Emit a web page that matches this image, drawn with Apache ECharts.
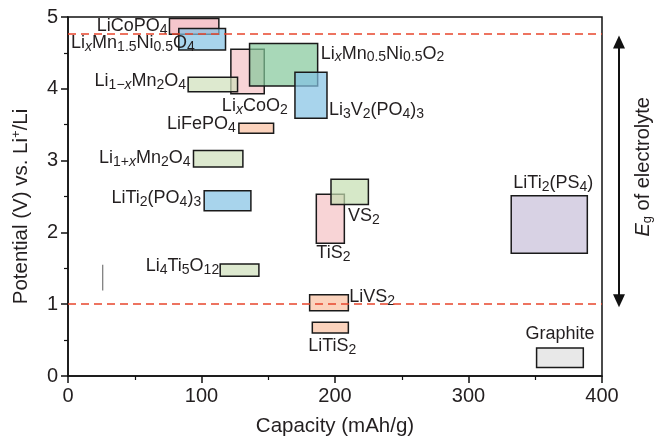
<!DOCTYPE html>
<html><head><meta charset="utf-8">
<script src="https://cdn.jsdelivr.net/npm/echarts@6/dist/echarts.min.js"></script>
<style>html,body{margin:0;padding:0;background:#fff}#c{width:656px;height:438px}</style>
</head><body><div id="c"></div>
<script>
// ---- data ----
const materials = ['LiCoPO4','LixMn1.5Ni0.5O4','LixCoO2','LixMn0.5Ni0.5O2','Li3V2(PO4)3','Li1-xMn2O4','LiFePO4','Li1+xMn2O4','LiTi2(PO4)3','Li4Ti5O12','TiS2','VS2','LiVS2','LiTiS2','LiTi2(PS4)','Graphite'];
const capacityLow  = [76, 83, 122, 136, 170, 90, 128, 94, 102, 114, 186, 197, 181, 183, 332, 351];
const capacityHigh = [113, 118, 147, 187, 194, 127, 154, 131, 137, 143, 207, 225, 210, 210, 389, 386];
const potentialLow  = [4.76, 4.54, 3.93, 4.04, 3.59, 3.96, 3.38, 2.91, 2.30, 1.39, 1.85, 2.39, 0.91, 0.60, 1.71, 0.12];
const potentialHigh = [4.98, 4.84, 4.55, 4.63, 4.23, 4.16, 3.52, 3.14, 2.58, 1.56, 2.53, 2.74, 1.13, 0.75, 2.51, 0.39];
const xTicks = [0, 100, 200, 300, 400];
const yTicks = [0, 1, 2, 3, 4, 5];
const electrolyteWindow = [1.0, 4.77];
const refMarkCapacity = [26, 26];
const refMarkPotential = [1.19, 1.55];
const labelText = [
  '{n|LiCoPO}{s|4}',
  '{n|Li}{si|x}{n|Mn}{s|1.5}{n|Ni}{s|0.5}{n|O}{s|4}',
  '{n|Li}{si|x}{n|CoO}{s|2}',
  '{n|Li}{si|x}{n|Mn}{s|0.5}{n|Ni}{s|0.5}{n|O}{s|2}',
  '{n|Li}{s|3}{n|V}{s|2}{n|(PO}{s|4}{n|)}{s|3}',
  '{n|Li}{s|1\u2212}{si|x}{n|Mn}{s|2}{n|O}{s|4}',
  '{n|LiFePO}{s|4}',
  '{n|Li}{s|1+}{si|x}{n|Mn}{s|2}{n|O}{s|4}',
  '{n|LiTi}{s|2}{n|(PO}{s|4}{n|)}{s|3}',
  '{n|Li}{s|4}{n|Ti}{s|5}{n|O}{s|12}',
  '{n|TiS}{s|2}',
  '{n|VS}{s|2}',
  '{n|LiVS}{s|2}',
  '{n|LiTiS}{s|2}',
  '{n|LiTi}{s|2}{n|(PS}{s|4}{n|)}',
  '{n|Graphite}'
];

// ---- styles / layout ----
const fills = [
  'rgba(241,174,182,0.7)','rgba(131,194,228,0.7)','rgba(245,194,197,0.7)','rgba(131,199,154,0.7)',
  'rgba(131,194,228,0.7)','rgba(206,224,187,0.7)','rgba(249,192,161,0.7)','rgba(206,224,187,0.7)',
  'rgba(131,194,228,0.7)','rgba(206,224,187,0.7)','rgba(245,194,197,0.7)','rgba(196,222,176,0.7)',
  'rgba(249,192,161,0.7)','rgba(249,192,161,0.7)','rgba(199,191,217,0.7)','rgba(222,222,222,0.7)'
];
// [hAnchor, align, dx, vAnchor, dy]
const labelLayout = [
  ['x0','right',-2,'mid',0],
  ['x0','right',16,'mid',4],
  ['x0','left',-9,'bottom',12],
  ['x1','left',3,'top',10],
  ['x1','left',2,'bottom',-8],
  ['x0','right',-2,'mid',-3],
  ['x0','right',-3,'mid',-4],
  ['x0','right',-3,'mid',-1],
  ['x0','right',-3,'mid',-3],
  ['x0','right',-1,'mid',-4],
  ['x0','left',0,'bottom',10],
  ['x0','left',17,'bottom',12],
  ['x1','left',1,'top',2],
  ['cx','center',2,'bottom',13],
  ['cx','center',4,'top',-13],
  ['cx','center',0,'top',-14]
];
const FONT = '"Liberation Sans", Arial, Helvetica, sans-serif';
const TXT = '#231f20';
const rich = {
  n: {fontSize: 18, fontFamily: FONT, color: TXT},
  s: {fontSize: 14, fontFamily: FONT, color: TXT, padding: [8, 0, 0, 0]},
  si: {fontSize: 14, fontFamily: FONT, color: TXT, fontStyle: 'italic', padding: [8, 0, 0, 0]}
};

const chart = echarts.init(document.getElementById('c'), null, {renderer: 'canvas'});
const rectData = materials.map((m, i) => [capacityLow[i], capacityHigh[i], potentialLow[i], potentialHigh[i]]);

const option = {
  animation: false,
  backgroundColor: '#fff',
  grid: {left: 68, right: 54, top: 17, bottom: 62, containLabel: false, outerBoundsMode: 'none',
         show: true, borderColor: '#111', borderWidth: 1.5, backgroundColor: 'transparent'},
  xAxis: {
    type: 'value', min: xTicks[0], max: xTicks[xTicks.length - 1], interval: 100,
    name: 'Capacity (mAh/g)', nameLocation: 'middle', nameGap: 40,
    nameTextStyle: {fontSize: 20.5, fontFamily: FONT, color: TXT},
    axisLine: {lineStyle: {color: '#111', width: 1.5}},
    axisTick: {show: true, inside: false, length: 7, lineStyle: {color: '#111', width: 1.5}},
    minorTick: {show: true, splitNumber: 2, length: 4, lineStyle: {color: '#111', width: 1.2}},
    axisLabel: {fontSize: 20, fontFamily: FONT, color: TXT, margin: 10},
    splitLine: {show: false}
  },
  yAxis: {
    type: 'value', min: yTicks[0], max: yTicks[yTicks.length - 1], interval: 1,
    name: 'Potential (V) vs. Li{sup|+}/Li', nameLocation: 'middle', nameGap: 35,
    nameTextStyle: {fontSize: 20.5, fontFamily: FONT, color: TXT, padding: [0, 20, 0, 0],
      rich: {sup: {fontSize: 13, fontFamily: FONT, color: TXT, padding: [0, 0, 10, 0]}}},
    axisLine: {lineStyle: {color: '#111', width: 1.5}},
    axisTick: {show: true, inside: false, length: 7, lineStyle: {color: '#111', width: 1.5}},
    minorTick: {show: true, splitNumber: 2, length: 4, lineStyle: {color: '#111', width: 1.2}},
    axisLabel: {fontSize: 20, fontFamily: FONT, color: TXT, margin: 10},
    splitLine: {show: false}
  },
  series: [
    {
      type: 'line', data: [], silent: true,
      markLine: {
        silent: true, symbol: ['none', 'none'], label: {show: false},
        lineStyle: {color: '#e8452c', type: [8, 5], width: 1.5},
        data: electrolyteWindow.map(v => ({yAxis: v}))
      }
    },
    {
      type: 'custom', clip: false, silent: true,
      data: rectData,
      encode: {x: [0, 1], y: [2, 3]},
      renderItem: function (params, api) {
        const i = params.dataIndex;
        const pA = api.coord([api.value(0), api.value(3)]);
        const pB = api.coord([api.value(1), api.value(2)]);
        const x0 = pA[0], y0 = pA[1], x1 = pB[0], y1 = pB[1];
        const L = labelLayout[i];
        let tx = L[0] === 'x0' ? x0 : L[0] === 'x1' ? x1 : (x0 + x1) / 2;
        tx += L[2];
        let ty = L[3] === 'top' ? y0 : L[3] === 'bottom' ? y1 : (y0 + y1) / 2;
        ty += L[4];
        return {
          type: 'group',
          children: [
            {type: 'rect', shape: {x: x0, y: y0, width: x1 - x0, height: y1 - y0},
             style: {fill: fills[i], stroke: '#1a1a1a', lineWidth: 1.5}},
            {type: 'text', x: tx, y: ty, z2: 100,
             style: {text: labelText[i], rich: rich, align: L[1], verticalAlign: 'middle', fill: TXT, font: '18px ' + FONT}}
          ]
        };
      }
    },
    {
      type: 'line', silent: true, symbol: 'none',
      data: refMarkCapacity.map((c, i) => [c, refMarkPotential[i]]),
      lineStyle: {color: '#777', width: 1.2}
    }
  ]
};
chart.setOption(option);

// double arrow + label for electrolyte window
const yTop = chart.convertToPixel({yAxisIndex: 0}, electrolyteWindow[1]);
const yBot = chart.convertToPixel({yAxisIndex: 0}, electrolyteWindow[0]);
const ax = 619, ah = 13, aw = 6;
const tipTop = yTop + 2, tipBot = yBot + 3;
chart.setOption({
  graphic: [
    {type: 'line', shape: {x1: ax, y1: tipTop + 6, x2: ax, y2: tipBot - 6}, style: {stroke: '#111', lineWidth: 2}},
    {type: 'polygon', shape: {points: [[ax, tipTop], [ax - aw, tipTop + ah], [ax + aw, tipTop + ah]]}, style: {fill: '#111'}},
    {type: 'polygon', shape: {points: [[ax, tipBot], [ax - aw, tipBot - ah], [ax + aw, tipBot - ah]]}, style: {fill: '#111'}},
    {type: 'text', x: 643, y: (yTop + yBot) / 2 - 2, rotation: Math.PI / 2,
     style: {text: '{e|E}{g|g}{n| of electrolyte}', align: 'center', verticalAlign: 'middle', fill: TXT,
       rich: {
         e: {fontSize: 20, fontFamily: FONT, fontStyle: 'italic', color: TXT},
         g: {fontSize: 13, fontFamily: FONT, color: TXT, padding: [9, 0, 0, 0]},
         n: {fontSize: 20, fontFamily: FONT, color: TXT}
       }}}
  ]
});
</script>
</body></html>
